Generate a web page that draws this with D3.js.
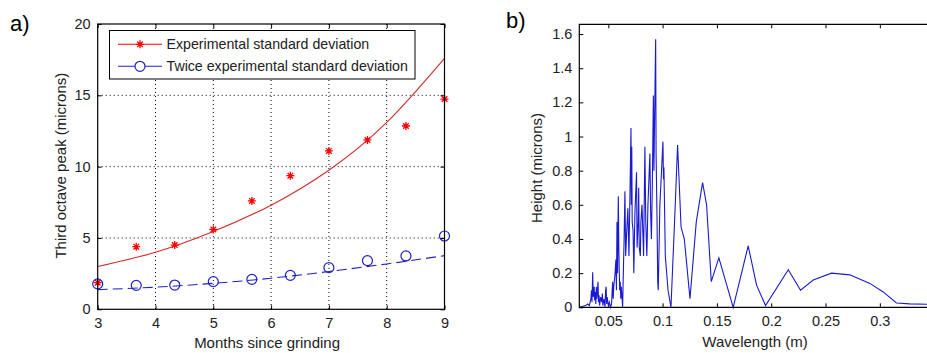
<!DOCTYPE html>
<html>
<head>
<meta charset="utf-8">
<script src="https://cdn.jsdelivr.net/npm/d3@7"></script>
<style>
  body { margin: 0; background: #fff; }
  svg { display: block; font-family: "Liberation Sans", Arial, sans-serif; }
</style>
</head>
<body>
<svg id="chart" width="927" height="353"></svg>
<script>
// ---- panel a) data ----
const months = [3, 3.667, 4.333, 5, 5.667, 6.333, 7, 7.667, 8.333, 9];
const expStd = [1.87, 4.39, 4.5, 5.6, 7.6, 9.37, 11.1, 11.87, 12.85, 14.74];
const twiceStd = [1.78, 1.68, 1.7, 1.94, 2.1, 2.38, 2.92, 3.41, 3.74, 5.14];
const fitMonths = [3, 4, 5, 6, 7, 8, 9];
const expFit = [3.0, 4.0, 5.45, 7.3, 9.75, 13.1, 17.6];
const twiceFit = [1.38, 1.55, 1.82, 2.18, 2.65, 3.18, 3.76];
const xTicksA = [3, 4, 5, 6, 7, 8, 9];
const yTicksA = [0, 5, 10, 15, 20];
const legendLabels = ['Experimental standard deviation', 'Twice experimental standard deviation'];

// ---- panel b) data ----
const wavelength = [0.0233, 0.026, 0.029, 0.031, 0.0325, 0.034, 0.0345, 0.035, 0.0356, 0.0362, 0.037, 0.0375,
  0.038, 0.0385, 0.039, 0.0395, 0.0405, 0.041, 0.0415, 0.042, 0.043, 0.044, 0.0445, 0.045, 0.046, 0.047,
  0.0475, 0.048, 0.0485, 0.049, 0.05, 0.051, 0.052, 0.053, 0.054, 0.0545, 0.055, 0.056, 0.057, 0.0575,
  0.058, 0.0585, 0.0592, 0.0598, 0.0605, 0.061, 0.0615, 0.062, 0.0632, 0.064, 0.0645, 0.0653, 0.066,
  0.067, 0.068, 0.069, 0.0709, 0.0712, 0.0716, 0.072, 0.0728, 0.0735, 0.0745, 0.076, 0.0765, 0.0775,
  0.078, 0.0785, 0.0795, 0.08, 0.081, 0.0825, 0.0837, 0.0845, 0.0855, 0.0865, 0.0883, 0.089, 0.0897,
  0.0905, 0.0915, 0.092, 0.0936, 0.094, 0.0948, 0.0955, 0.096, 0.0975, 0.1003, 0.1008, 0.1012, 0.1025,
  0.105, 0.1077, 0.111, 0.1138, 0.1144, 0.117, 0.12, 0.1252, 0.131, 0.1368, 0.1405, 0.1448, 0.1518,
  0.165, 0.1788, 0.1865, 0.1948, 0.2157, 0.227, 0.2387, 0.2555, 0.2724, 0.2908, 0.3031, 0.3153, 0.3276, 0.345];
const height = [0.0, 0.005, 0.01, 0.02, 0.01, 0.05, 0.1, 0.03, 0.205, 0.06, 0.12, 0.04,
  0.09, 0.02, 0.12, 0.05, 0.15, 0.03, 0.07, 0.01, 0.06, 0.03, 0.08, 0.01, 0.05, 0.0,
  0.1, 0.12, 0.02, 0.06, 0.01, 0.03, 0.0, 0.02, 0.15, 0.05, 0.12, 0.18, 0.28, 0.1,
  0.5, 0.2, 0.65, 0.3, 0.1, 0.15, 0.05, 0.12, 0.0, 0.25, 0.38, 0.68, 0.3,
  0.45, 0.58, 0.3, 1.05, 0.6, 0.94, 0.5, 0.45, 0.2, 0.55, 0.79, 0.35, 0.5,
  0.7, 0.35, 0.3, 0.5, 0.6, 0.3, 0.94, 0.5, 0.3, 0.6, 0.9, 0.55, 0.4,
  0.7, 1.24, 0.8, 1.57, 0.9, 0.55, 0.15, 0.1, 0.6, 0.97, 0.75, 0.82, 0.3,
  0.1, 0.0, 0.5, 0.95, 0.86, 0.47, 0.4, 0.05, 0.5, 0.73, 0.6, 0.15, 0.29,
  0.0, 0.36, 0.13, 0.01, 0.22, 0.1, 0.16, 0.2, 0.19, 0.14, 0.09, 0.025, 0.02, 0.018];
const xTicksB = [0.05, 0.1, 0.15, 0.2, 0.25, 0.3];
const yTicksB = [0, 0.2, 0.4, 0.6, 0.8, 1, 1.2, 1.4, 1.6];

const svg = d3.select('#chart');
const tickLen = 4;
const tickFont = 14.5;
const labelFont = 15;

// ================= panel a =================
const a = { left: 97.7, right: 444.5, top: 24, bottom: 309.3 };
const xA = d3.scaleLinear().domain([3, 9]).range([a.left, a.right]);
const yA = d3.scaleLinear().domain([0, 20]).range([a.bottom, a.top]);

svg.append('text').attr('x', 10).attr('y', 31).attr('font-size', 22).text('a)');

// grid
const gridA = svg.append('g').attr('stroke', '#000').attr('stroke-width', 1).attr('stroke-dasharray', '1,3');
gridA.selectAll('.gx').data(xTicksA.slice(1, -1)).join('line')
  .attr('x1', d => xA(d)).attr('x2', d => xA(d)).attr('y1', a.top).attr('y2', a.bottom);
gridA.selectAll('.gy').data(yTicksA.slice(1, -1)).join('line')
  .attr('x1', a.left).attr('x2', a.right).attr('y1', d => yA(d)).attr('y2', d => yA(d));

// axes (ticks inside, mirrored)
svg.append('g').attr('transform', `translate(0,${a.bottom})`)
  .call(d3.axisBottom(xA).tickValues(xTicksA).tickSize(-tickLen).tickPadding(8).tickSizeOuter(0)
    .tickFormat(d3.format('d')));
svg.append('g').attr('transform', `translate(0,${a.top})`)
  .call(d3.axisTop(xA).tickValues(xTicksA).tickSize(-tickLen).tickFormat('').tickSizeOuter(0));
svg.append('g').attr('transform', `translate(${a.left},0)`)
  .call(d3.axisLeft(yA).tickValues(yTicksA).tickSize(-tickLen).tickPadding(7).tickSizeOuter(0));
svg.append('g').attr('transform', `translate(${a.right},0)`)
  .call(d3.axisRight(yA).tickValues(yTicksA).tickSize(-tickLen).tickFormat('').tickSizeOuter(0));

// fits
const fitLine = (vals) => d3.line().curve(d3.curveNatural)
  .x((d, i) => xA(fitMonths[i])).y(d => yA(d))(vals);
svg.append('path').attr('d', fitLine(expFit)).attr('fill', 'none')
  .attr('stroke', '#d42a2a').attr('stroke-width', 1.1);
svg.append('path').attr('d', fitLine(twiceFit)).attr('fill', 'none')
  .attr('stroke', '#2020c8').attr('stroke-width', 1.1).attr('stroke-dasharray', '10,5');

// markers
const star = (g, cx, cy, s) => {
  const p = `M${cx - s},${cy}H${cx + s}M${cx},${cy - s}V${cy + s}` +
    `M${cx - s * 0.7},${cy - s * 0.7}L${cx + s * 0.7},${cy + s * 0.7}` +
    `M${cx - s * 0.7},${cy + s * 0.7}L${cx + s * 0.7},${cy - s * 0.7}`;
  g.append('path').attr('d', p).attr('stroke', '#ff0000').attr('stroke-width', 1.3).attr('fill', 'none');
};
const stars = svg.append('g');
expStd.forEach((v, i) => star(stars, xA(months[i]), yA(v), 4));
svg.append('g').selectAll('circle').data(twiceStd).join('circle')
  .attr('cx', (d, i) => xA(months[i])).attr('cy', d => yA(d)).attr('r', 5)
  .attr('fill', 'none').attr('stroke', '#2020c8').attr('stroke-width', 1.2);

// frame
svg.append('rect').attr('x', a.left).attr('y', a.top)
  .attr('width', a.right - a.left).attr('height', a.bottom - a.top)
  .attr('fill', 'none').attr('stroke', '#000').attr('stroke-width', 1.2);

// legend
const lg = svg.append('g');
lg.append('rect').attr('x', 109.5).attr('y', 30.5).attr('width', 305.5).attr('height', 48.5)
  .attr('fill', '#fff').attr('stroke', '#000').attr('stroke-width', 1);
[44.3, 66.3].forEach((ly, i) => {
  lg.append('line').attr('x1', 118).attr('x2', 162).attr('y1', ly).attr('y2', ly)
    .attr('stroke', i === 0 ? '#ff0000' : '#2020c8').attr('stroke-width', 1.1);
  if (i === 0) star(lg, 140, ly, 4);
  else lg.append('circle').attr('cx', 140).attr('cy', ly).attr('r', 5)
    .attr('fill', '#fff').attr('stroke', '#2020c8').attr('stroke-width', 1.2);
  lg.append('text').attr('x', 166.5).attr('y', ly + 5).attr('font-size', 14.2)
    .attr('fill', '#222').text(legendLabels[i]);
});

svg.append('text').attr('x', (a.left + a.right) / 2 - 4).attr('y', 348).attr('text-anchor', 'middle')
  .attr('font-size', labelFont).attr('fill', '#222').text('Months since grinding');
svg.append('text').attr('transform', `translate(66,${(a.top + a.bottom) / 2 - 1}) rotate(-90)`)
  .attr('text-anchor', 'middle').attr('font-size', labelFont).attr('fill', '#222')
  .text('Third octave peak (microns)');

// ================= panel b =================
const b = { left: 579.3, right: 945, top: 24.3, bottom: 307.3 };
const xB = d3.scaleLinear().domain([0.0233, 0.36]).range([b.left, b.right]);
const yB = d3.scaleLinear().domain([0, 1.657]).range([b.bottom, b.top]);

svg.append('text').attr('x', 506).attr('y', 28).attr('font-size', 22).text('b)');

svg.append('g').attr('transform', `translate(0,${b.bottom})`)
  .call(d3.axisBottom(xB).tickValues(xTicksB).tickSize(-tickLen).tickPadding(8).tickSizeOuter(0)
    .tickFormat(d3.format('~g')));
svg.append('g').attr('transform', `translate(0,${b.top})`)
  .call(d3.axisTop(xB).tickValues(xTicksB).tickSize(-tickLen).tickFormat('').tickSizeOuter(0));
svg.append('g').attr('transform', `translate(${b.left},0)`)
  .call(d3.axisLeft(yB).tickValues(yTicksB).tickSize(-tickLen).tickPadding(7).tickSizeOuter(0)
    .tickFormat(d3.format('~g')));

svg.append('path')
  .attr('d', d3.line().x((d, i) => xB(wavelength[i])).y(d => yB(d))(height))
  .attr('fill', 'none').attr('stroke', '#1a1ad0').attr('stroke-width', 1.1);

svg.append('path').attr('d', `M${b.right},${b.top}H${b.left}V${b.bottom}H${b.right}`)
  .attr('fill', 'none').attr('stroke', '#000').attr('stroke-width', 1.2);

svg.append('text').attr('x', 755).attr('y', 347).attr('text-anchor', 'middle')
  .attr('font-size', labelFont).attr('fill', '#222').text('Wavelength (m)');
svg.append('text').attr('transform', `translate(542,168) rotate(-90)`)
  .attr('text-anchor', 'middle').attr('font-size', labelFont).attr('fill', '#222').text('Height (microns)');

// axis text styling
svg.selectAll('.tick text').attr('font-size', tickFont).attr('fill', '#222')
  .attr('font-family', '"Liberation Sans", Arial, sans-serif');
svg.selectAll('.domain').remove();
svg.selectAll('.tick line').attr('stroke', '#000');
</script>
</body>
</html>
